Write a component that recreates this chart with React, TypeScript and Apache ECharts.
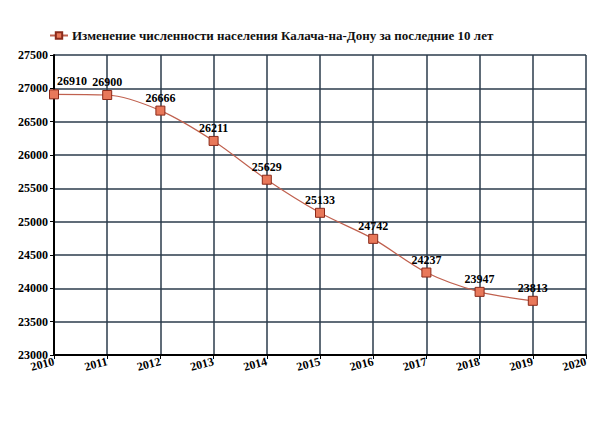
import React, { useEffect, useRef } from "react";
import * as echarts from "echarts";

const years = [2010, 2011, 2012, 2013, 2014, 2015, 2016, 2017, 2018, 2019];
const population = [26910, 26900, 26666, 26211, 25629, 25133, 24742, 24237, 23947, 23813];
const seriesName = "Изменение численности населения Калача-на-Дону за последние 10 лет";

export default function App() {
  const ref = useRef<HTMLDivElement>(null);
  useEffect(() => {
    const chart = echarts.init(ref.current!, null, { renderer: "svg" });
    const font = "Liberation Serif";
    chart.setOption({
      animation: false,
      backgroundColor: "#ffffff",
      textStyle: { fontFamily: font },
      legend: {
        top: 21,
        left: 41,
        padding: 0,
        itemWidth: 18,
        itemHeight: 8,
        itemGap: 4,
        textStyle: { fontFamily: font, fontWeight: "bold", fontSize: 13, color: "#111", padding: [0, 0, 0, -1] },
        data: [seriesName],
      },
      grid: { left: 46, right: 10, top: 47, bottom: 81, containLabel: false },
      xAxis: {
        type: "value",
        min: 2010,
        max: 2020,
        interval: 1,
        axisLine: { lineStyle: { color: "#000", width: 2 } },
        axisTick: { show: true, length: 4, lineStyle: { color: "#000" } },
        axisLabel: {
          rotate: 15,
          fontFamily: font,
          fontWeight: "bold",
          fontSize: 12,
          color: "#000",
          margin: 6,
          formatter: (v: number) => String(v),
        },
        splitLine: { show: true, lineStyle: { color: "#2b3b4b", width: 1.5 } },
      },
      yAxis: {
        type: "value",
        min: 23000,
        max: 27500,
        interval: 500,
        axisLine: { show: true, lineStyle: { color: "#000", width: 2 } },
        axisTick: { show: true, length: 4, lineStyle: { color: "#000" } },
        axisLabel: {
          fontFamily: font,
          fontWeight: "bold",
          fontSize: 12,
          color: "#000",
          margin: 6,
          formatter: (v: number) => String(v),
        },
        splitLine: { show: true, lineStyle: { color: "#2b3b4b", width: 1.5 } },
      },
      series: [
        {
          name: seriesName,
          type: "line",
          smooth: 0.3,
          data: years.map((y, i) => [y, population[i]]),
          symbol: "rect",
          symbolSize: 9,
          lineStyle: { color: "#c0614f", width: 1.2 },
          itemStyle: { color: "#e8785a", borderColor: "#8a2a1a", borderWidth: 1 },
          label: {
            show: true,
            position: "top",
            distance: 2,
            fontFamily: font,
            fontWeight: "bold",
            fontSize: 12,
            color: "#000",
          },
          labelLayout: (params: any) =>
            params.dataIndex === 0 ? { dx: 18 } : {},
        },
      ],
    });
    return () => chart.dispose();
  }, []);
  return <div ref={ref} style={{ width: 588, height: 428 }} />;
}
